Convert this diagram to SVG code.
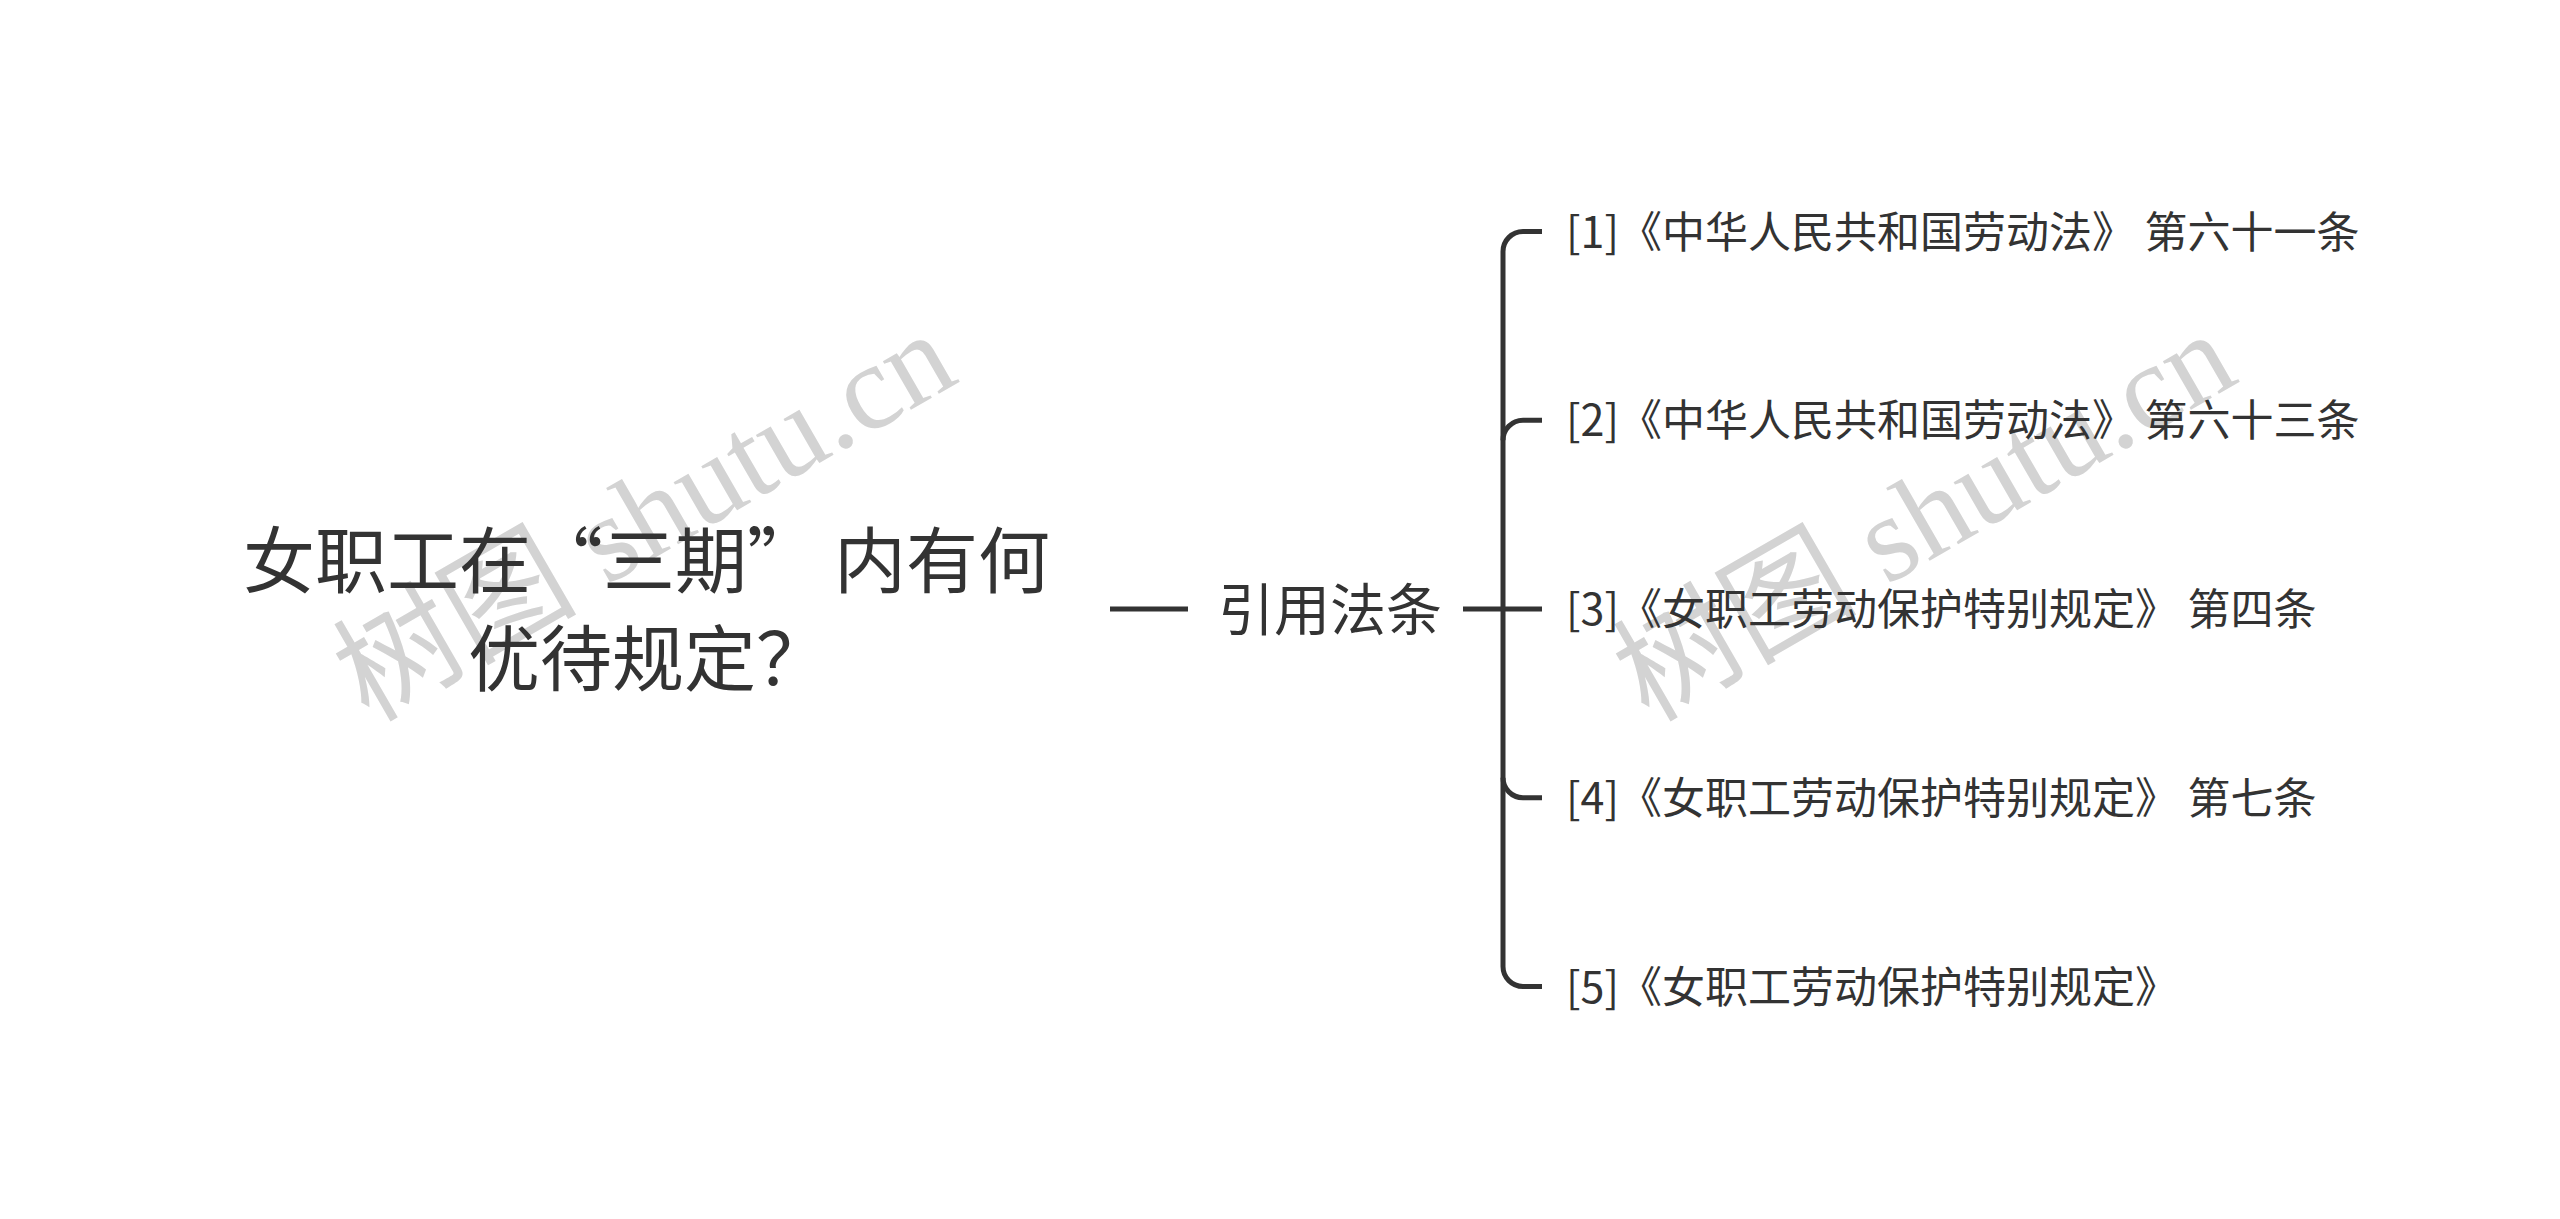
<svg xmlns="http://www.w3.org/2000/svg" width="2560" height="1219" viewBox="0 0 2560 1219">
<style>
.wm{font-family:"Liberation Serif","Noto Sans CJK SC",serif;font-size:122px;fill:#d3d3d3;}
.t{font-family:"Noto Sans CJK SC","Noto Sans",sans-serif;fill:#333333;}
.root{font-size:72px;}
.mid{font-size:56px;}
.leaf{font-size:43px;}
.c{fill:none;stroke:#333333;stroke-width:5;stroke-linecap:butt;}
</style>
<rect width="2560" height="1219" fill="#ffffff"/>
<g id="watermarks">
<text class="wm" x="650" y="556" text-anchor="middle" transform="rotate(-30 650 526)">树图 shutu.cn</text>
<text class="wm" x="1930" y="556" text-anchor="middle" transform="rotate(-30 1930 526)">树图 shutu.cn</text>
</g>
<g id="connectors">
<line class="c" x1="1110" y1="609" x2="1188" y2="609"/>
<line class="c" x1="1463" y1="609" x2="1542" y2="609"/>
<path class="c" d="M1542 231.5 H1523 A20 20 0 0 0 1503 251.5 V966.5 A20 20 0 0 0 1523 986.5 H1542"/>
<path class="c" d="M1503 440.25 A20 20 0 0 1 1523 420.25 H1542"/>
<path class="c" d="M1503 777.75 A20 20 0 0 0 1523 797.75 H1542"/>
</g>
<g id="root">
<text class="t root" x="243" y="587">女职工在“三期”<tspan dx="15">内有何</tspan></text>
<text class="t root" x="648" y="685" text-anchor="middle">优待规定？</text>
</g>
<g id="node-mid">
<text class="t mid" x="1218" y="630">引用法条</text>
</g>
<g id="leaf-1"><text class="t leaf" x="1566" y="247.5">[1]《中华人民共和国劳动法》 第六十一条</text></g>
<g id="leaf-2"><text class="t leaf" x="1566" y="436.25">[2]《中华人民共和国劳动法》 第六十三条</text></g>
<g id="leaf-3"><text class="t leaf" x="1566" y="625">[3]《女职工劳动保护特别规定》 第四条</text></g>
<g id="leaf-4"><text class="t leaf" x="1566" y="813.75">[4]《女职工劳动保护特别规定》 第七条</text></g>
<g id="leaf-5"><text class="t leaf" x="1566" y="1002.5">[5]《女职工劳动保护特别规定》</text></g>
</svg>
